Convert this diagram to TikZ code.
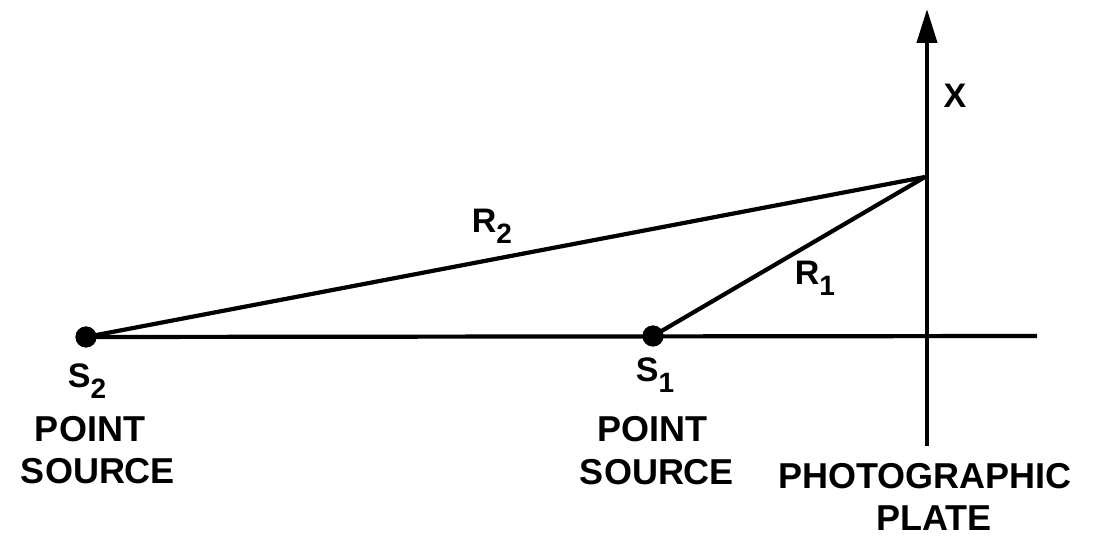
\documentclass[tikz,border=0pt]{standalone}
\usepackage{fontspec}
\setmainfont{Liberation Sans}
\usetikzlibrary{arrows.meta}

\newcommand{\sublbl}[2]{#1\raisebox{-0.32em}{\fontsize{28pt}{28pt}\selectfont #2}}

\begin{document}
\begin{tikzpicture}[x=1pt,y=-1pt,
    lbl/.style={font=\fontsize{34pt}{34pt}\bfseries\selectfont, inner sep=0pt, anchor=base},
    captext/.style={font=\fontsize{36pt}{36pt}\bfseries\selectfont, inner sep=0pt, anchor=base},
    src/.style={circle, fill=black, inner sep=0pt, minimum size=21pt},
    ray/.style={line width=4.2pt}]
    \useasboundingbox (0,0) rectangle (1096,537);
    % points on the axes
    \coordinate (pt) at (925,177);
    \coordinate (axbot) at (927,446);
    \coordinate (axtop) at (927,9);
    \coordinate (hend) at (1037,336);
    \node[src] (s2) at (86,337) {};
    \node[src] (s1) at (653,336) {};
    % lines
    \draw[ray] (s2.center) -- (hend);
    \draw[ray, -{Triangle[length=34pt,width=20pt]}] (axbot) -- (axtop);
    \draw[ray] (s2.center) -- (pt);
    \draw[ray] (s1.center) -- (pt);
    \node[src] at (s2) {};
    \node[src] at (s1) {};
    % labels
    \node[lbl] (xlab) at (955,108) {X};
    \node[lbl] (r2lab) at (492,233) {\sublbl{R}{2}};
    \node[lbl] (r1lab) at (815,285) {\sublbl{R}{1}};
    \node[lbl] (s2lab) at (87,388) {\sublbl{S}{2}};
    \node[lbl] (s1lab) at (655,382) {\sublbl{S}{1}};
    \node[captext] (pt2) at (90,442) {POINT};
    \node[captext] (so2) at (98,483) {SOURCE};
    \node[captext] (pt1) at (652,442) {POINT};
    \node[captext] (so1) at (657,485) {SOURCE};
    \node[captext] (photo) at (925,488) {PHOTOGRAPHIC};
    \node[captext] (plate) at (934,530) {PLATE};
\end{tikzpicture}
\end{document}
